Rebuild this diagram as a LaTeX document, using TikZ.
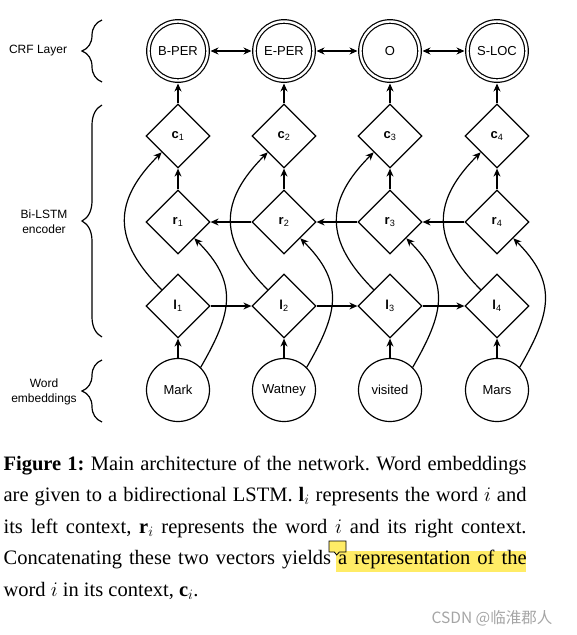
\documentclass[tikz,border=0pt]{standalone}
\usepackage{fontspec}
\setmainfont{Liberation Serif}
\newfontfamily\arialfont{Liberation Sans}
\newfontfamily\cjk{Noto Sans CJK SC}
\usetikzlibrary{shapes.geometric, arrows.meta, decorations.pathreplacing}
\definecolor{hilite}{RGB}{255,236,102}
\definecolor{wmgray}{RGB}{165,165,165}
\tikzset{
  lbl/.style={font=\arialfont\fontsize{13}{15}\selectfont},
  side/.style={font=\arialfont\fontsize{12}{15}\selectfont},
  crf/.style={lbl, circle, draw, double, double distance=2.4pt, minimum size=59pt, inner sep=0pt},
  cell/.style={lbl, diamond, draw, minimum width=64pt, minimum height=64pt, inner sep=0pt},
  word/.style={lbl, circle, draw, minimum size=63pt, inner sep=0pt},
  arr/.style={-{Stealth[length=8pt,width=7pt]}},
  brc/.style={decorate, decoration={brace, amplitude=20pt}}
}

\begin{document}
\frenchspacing
\begin{tikzpicture}[x=1pt, y=1pt, line width=1.2pt]
            \useasboundingbox (0,0) rectangle (577,-635);
            % CRF layer
            \node[crf] (y1) at (178,-51) {B-PER};
            \node[crf] (y2) at (284,-51) {E-PER};
            \node[crf] (y3) at (390,-51) {O};
            \node[crf] (y4) at (497,-51) {S-LOC};
            % concatenated
            \node[cell] (c1) at (178,-136) {\textbf{c}\textsubscript{1}};
            \node[cell] (c2) at (284,-136) {\textbf{c}\textsubscript{2}};
            \node[cell] (c3) at (390,-136) {\textbf{c}\textsubscript{3}};
            \node[cell] (c4) at (497,-136) {\textbf{c}\textsubscript{4}};
            % right context
            \node[cell] (r1) at (178,-222) {\textbf{r}\textsubscript{1}};
            \node[cell] (r2) at (284,-222) {\textbf{r}\textsubscript{2}};
            \node[cell] (r3) at (390,-222) {\textbf{r}\textsubscript{3}};
            \node[cell] (r4) at (497,-222) {\textbf{r}\textsubscript{4}};
            % left context
            \node[cell] (l1) at (178,-306) {\textbf{l}\textsubscript{1}};
            \node[cell] (l2) at (284,-306) {\textbf{l}\textsubscript{2}};
            \node[cell] (l3) at (390,-306) {\textbf{l}\textsubscript{3}};
            \node[cell] (l4) at (497,-306) {\textbf{l}\textsubscript{4}};
            % words
            \node[word] (w1) at (178,-390) {Mark};
            \node[word] (w2) at (284,-390) {Watney};
            \node[word] (w3) at (390,-390) {visited};
            \node[word] (w4) at (497,-390) {Mars};
            % CRF transitions
            \draw[{Stealth[length=8pt,width=7pt]}-{Stealth[length=8pt,width=7pt]}, shorten <=2.4pt, shorten >=2.4pt] (y1.east)--(y2.west);
            \draw[{Stealth[length=8pt,width=7pt]}-{Stealth[length=8pt,width=7pt]}, shorten <=2.4pt, shorten >=2.4pt] (y2.east)--(y3.west);
            \draw[{Stealth[length=8pt,width=7pt]}-{Stealth[length=8pt,width=7pt]}, shorten <=2.4pt, shorten >=2.4pt] (y3.east)--(y4.west);
            % vertical flow
            \draw[arr, shorten >=2.4pt] (c1.north)--(y1.south);
            \draw[arr, shorten >=2.4pt] (c2.north)--(y2.south);
            \draw[arr, shorten >=2.4pt] (c3.north)--(y3.south);
            \draw[arr, shorten >=2.4pt] (c4.north)--(y4.south);
            \draw[arr] (r1.north)--(c1.south);
            \draw[arr] (r2.north)--(c2.south);
            \draw[arr] (r3.north)--(c3.south);
            \draw[arr] (r4.north)--(c4.south);
            \draw[arr] (w1.north)--(l1.south);
            \draw[arr] (w2.north)--(l2.south);
            \draw[arr] (w3.north)--(l3.south);
            \draw[arr] (w4.north)--(l4.south);
            % recurrences
            \draw[arr] (l1.east)--(l2.west);
            \draw[arr] (l2.east)--(l3.west);
            \draw[arr] (l3.east)--(l4.west);
            \draw[arr] (r2.west)--(r1.east);
            \draw[arr] (r3.west)--(r2.east);
            \draw[arr] (r4.west)--(r3.east);
            % skip curves
            \draw[arr] (l1.north west) to[out=135, in=225, looseness=1.3] (c1.south west);
            \draw[arr] (l2.north west) to[out=135, in=225, looseness=1.3] (c2.south west);
            \draw[arr] (l3.north west) to[out=135, in=225, looseness=1.3] (c3.south west);
            \draw[arr] (l4.north west) to[out=135, in=225, looseness=1.3] (c4.south west);
            \draw[arr] (w1.45) to[out=60, in=-45, looseness=1.25] (r1.south east);
            \draw[arr] (w2.45) to[out=60, in=-45, looseness=1.25] (r2.south east);
            \draw[arr] (w3.45) to[out=60, in=-45, looseness=1.25] (r3.south east);
            \draw[arr] (w4.45) to[out=60, in=-45, looseness=1.25] (r4.south east);
            % braces and layer names
            \draw[brc] (102,-82)--(102,-20);
            \draw[brc] (102,-337)--(102,-105);
            \draw[brc] (102,-422)--(102,-360);
            \node[side, anchor=east] (crfname) at (71,-51) {CRF Layer};
            \node[side, align=center] (lstmname) at (44,-222) {Bi-LSTM\\encoder};
            \node[side, align=center] (embname) at (44,-392) {Word\\embeddings};
            % caption
            \fill[hilite] (336,-551) rectangle (526,-572);
            \node[anchor=north west, inner sep=0pt, text width=523pt, align=justify,
                  font=\fontsize{20.5}{31.5}\selectfont] (caption) at (3,-455) {%
              \textbf{Figure 1:} Main architecture of the network. Word embeddings\linebreak
              are given to a bidirectional LSTM. $\mathbf{l}_i$ represents the word $i$ and\linebreak
              its left context, $\mathbf{r}_i$ represents the word $i$ and its right context.\linebreak
              Concatenating these two vectors yields a representation of the\linebreak
              word $i$ in its context, $\mathbf{c}_i$.};
            \filldraw[fill=hilite, draw=black, line width=0.8pt]
              (329,-541)--(346,-541)--(346,-552)--(339.3,-552)--(336.7,-555)--(334.3,-552)--(329,-552)--cycle;
            % watermark
            \node[text=wmgray, font=\cjk\fontsize{15.5}{17}\selectfont] (mark) at (492,-618) {CSDN @临淮郡人};
        \end{tikzpicture}
\end{document}
